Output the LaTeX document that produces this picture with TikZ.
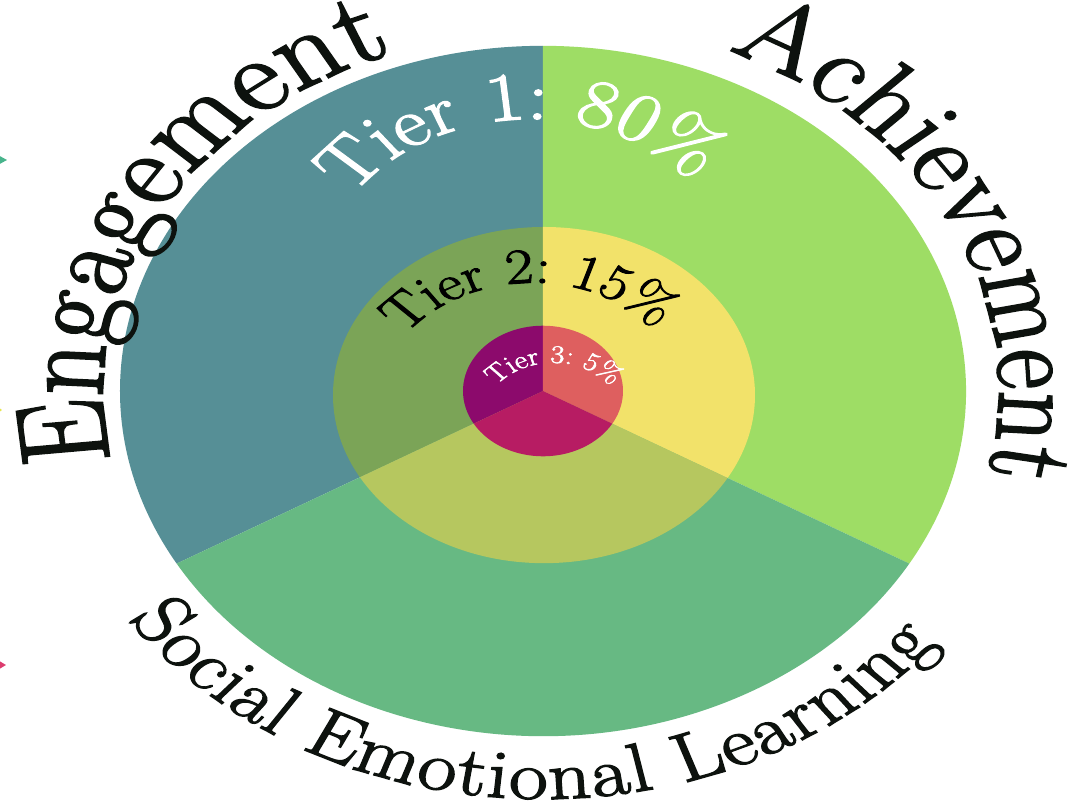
\documentclass[tikz,border=0pt]{standalone}
\usepackage{fontspec}
\newfontfamily\dispfont{lmroman17-regular.otf}[FakeBold=2]
\usetikzlibrary{decorations.text}
\definecolor{engC}{HTML}{568F96}
\definecolor{achC}{HTML}{9EDD65}
\definecolor{selC}{HTML}{67B983}
\definecolor{engB}{HTML}{7BA457}
\definecolor{achB}{HTML}{F2E26A}
\definecolor{selB}{HTML}{B6C75F}
\definecolor{engA}{HTML}{8C0A6C}
\definecolor{achA}{HTML}{DE5F5F}
\definecolor{selA}{HTML}{B71C63}
\definecolor{inkC}{HTML}{0D120E}
\definecolor{tipG}{HTML}{48B48C}
\definecolor{tipP}{HTML}{DC3C6E}
\definecolor{tipY}{HTML}{E6E650}
\tikzset{
  curvedc/.style={decorate, decoration={text along path, text align={center}, text color=#1}},
  curvedf/.style={decorate, decoration={text along path, text align={fit to path}, text color=#1}},
}
\begin{document}
\begin{tikzpicture}[x=1pt,y=1pt]
\useasboundingbox (-543,-414) rectangle (529,391);
\fill[white] (-543,-414) rectangle (529,391);
% small cut-off marks at the left edge
\fill[tipG] (-536,231) -- (-547,237) -- (-547,225) -- cycle;
\fill[tipP] (-537,-274) -- (-547,-268) -- (-547,-280) -- cycle;
\fill[tipY] (-541,-19) -- (-545,-16) -- (-545,-22) -- cycle;
\begin{pgflowlevelscope}{\pgftransformyscale{0.816}}
  % outer ring
  \fill[engC] (0,0) -- (90:423) arc[start angle=90, end angle=210, radius=423] -- cycle;
  \fill[achC] (0,0) -- (-30:423) arc[start angle=-30, end angle=90, radius=423] -- cycle;
  \fill[selC] (0,0) -- (210:423) arc[start angle=210, end angle=330, radius=423] -- cycle;
  % tier 2
  \begin{scope}
    \clip (1,-5) ellipse [x radius=211, y radius=206];
    \fill[engB] (0,0) -- (90:300) arc[start angle=90, end angle=210, radius=300] -- cycle;
    \fill[achB] (0,0) -- (-30:300) arc[start angle=-30, end angle=90, radius=300] -- cycle;
    \fill[selB] (0,0) -- (210:300) arc[start angle=210, end angle=330, radius=300] -- cycle;
  \end{scope}
  % tier 3
  \fill[engA] (0,0) -- (90:80) arc[start angle=90, end angle=210, radius=80] -- cycle;
  \fill[achA] (0,0) -- (-30:80) arc[start angle=-30, end angle=90, radius=80] -- cycle;
  \fill[selA] (0,0) -- (210:80) arc[start angle=210, end angle=330, radius=80] -- cycle;
  % outer labels
  \path[curvedc=inkC, decoration={text={|\dispfont\fontsize{126}{126}\selectfont|Engagement}}]
    (200.5:440) arc[start angle=200.5, end angle=100.5, radius=440];
  \path[curvedc=inkC, decoration={text={|\dispfont\fontsize{121}{121}\selectfont|Achievement}}]
    (76.5:456) arc[start angle=76.5, end angle=-23.5, radius=456];
  \path[curvedf=inkC, decoration={text={|\dispfont\fontsize{84}{84}\selectfont|Social Emotional Learning}}]
    (214:500) arc[start angle=214, end angle=322, radius=500];
  % tier labels
  \path[curvedc=white, shift={(-13,118)}, decoration={text={|\dispfont\fontsize{84}{84}\selectfont|Tier 1: 80{\%}}}]
    (163.1:215) arc[start angle=163.1, end angle=23.1, radius=215];
  \path[curvedc=black, shift={(-10,-27.5)}, decoration={text={|\dispfont\fontsize{61}{61}\selectfont|Tier 2: 15{\%}}}]
    (161.6:160) arc[start angle=161.6, end angle=21.6, radius=160];
  \path[curvedc=white, shift={(10.5,-38)}, decoration={text={|\dispfont\fontsize{31}{31}\selectfont|Tier 3: 5{\%}}}]
    (164.6:72.5) arc[start angle=164.6, end angle=14.6, radius=72.5];
\end{pgflowlevelscope}
\end{tikzpicture}
\end{document}
